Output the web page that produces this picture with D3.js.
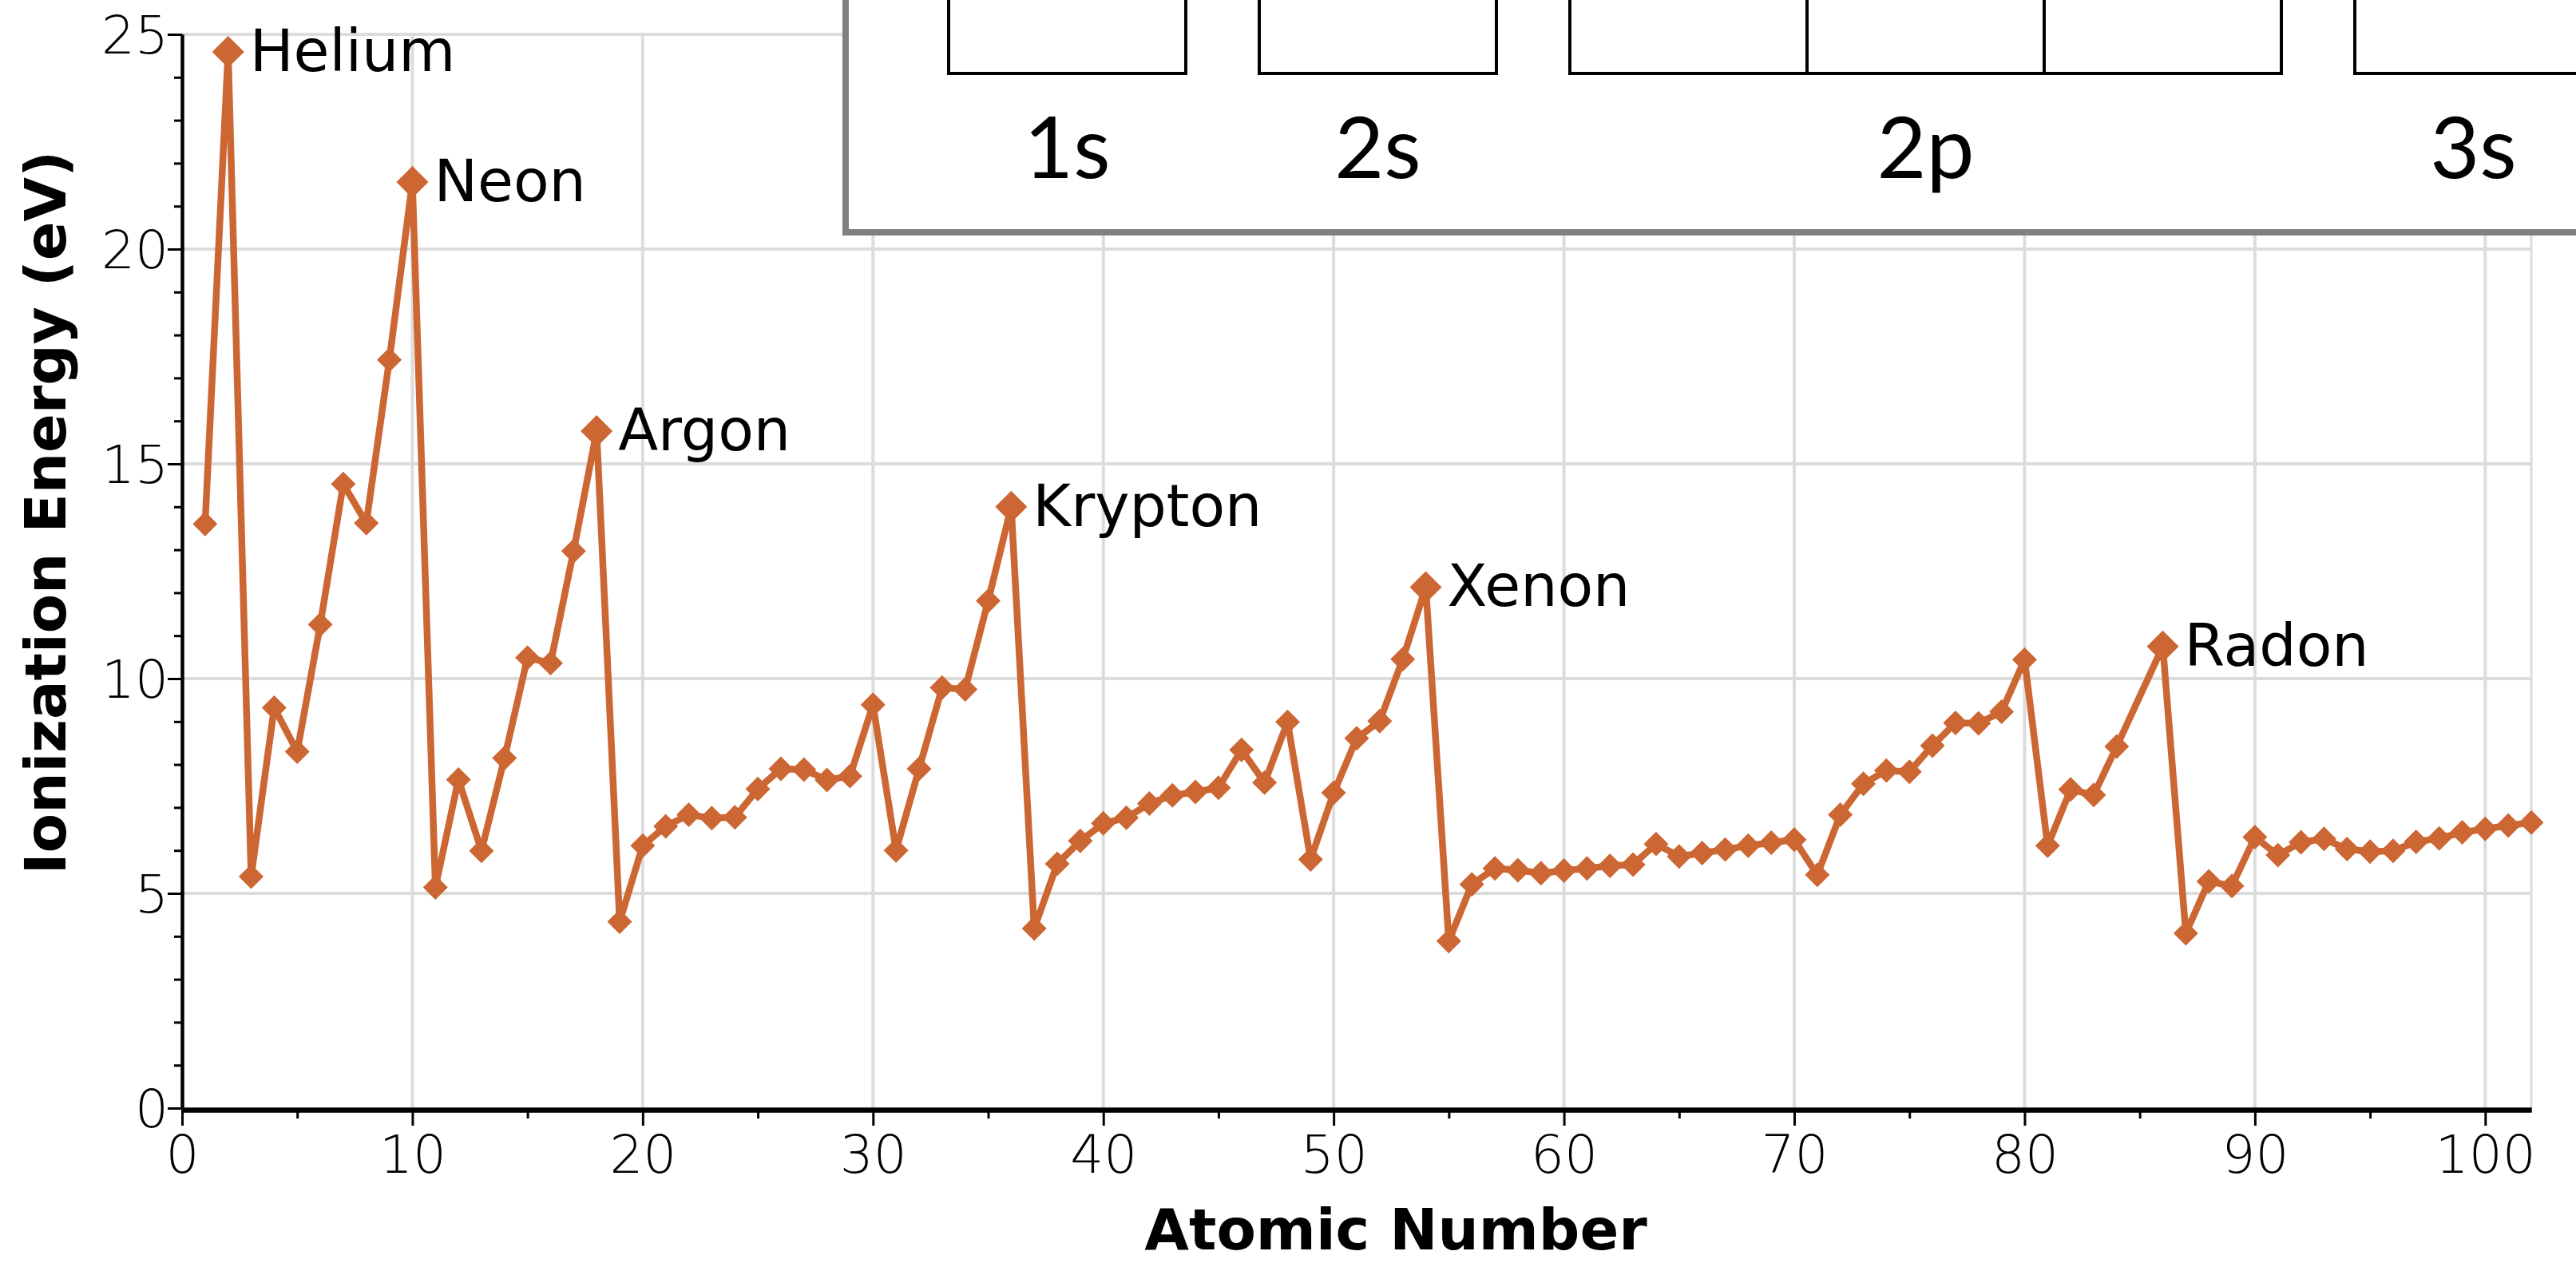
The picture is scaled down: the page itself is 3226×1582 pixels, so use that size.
<!DOCTYPE html>
<html><head><meta charset="utf-8">
<script src="https://cdn.jsdelivr.net/npm/d3@7"></script>
<style>html,body{margin:0;padding:0;background:#fff;overflow:hidden}</style>
</head><body><svg id="c" width="3226" height="1582"></svg>
<script>
// ---- data ----
const atomicNumber = [1,2,3,4,5,6,7,8,9,10,11,12,13,14,15,16,17,18,19,20,
  21,22,23,24,25,26,27,28,29,30,31,32,33,34,35,36,37,38,39,40,
  41,42,43,44,45,46,47,48,49,50,51,52,53,54,55,56,57,58,59,60,
  61,62,63,64,65,66,67,68,69,70,71,72,73,74,75,76,77,78,79,80,
  81,82,83,84,86,87,88,89,90,91,92,93,94,95,96,97,98,99,100,101,102];
const ionizationEnergy = [13.60,24.59,5.39,9.32,8.30,11.26,14.53,13.62,17.42,21.56,
  5.14,7.65,5.99,8.15,10.49,10.36,12.97,15.76,4.34,6.11,
  6.56,6.83,6.75,6.77,7.43,7.90,7.88,7.64,7.73,9.39,
  6.00,7.90,9.79,9.75,11.81,14.00,4.18,5.69,6.22,6.63,
  6.76,7.09,7.28,7.36,7.46,8.34,7.58,8.99,5.79,7.34,
  8.61,9.01,10.45,12.13,3.89,5.21,5.58,5.54,5.47,5.53,
  5.58,5.64,5.67,6.15,5.86,5.94,6.02,6.11,6.18,6.25,
  5.43,6.83,7.55,7.86,7.83,8.44,8.97,8.96,9.23,10.44,
  6.11,7.42,7.29,8.42,10.75,4.07,5.28,5.17,6.31,5.89,
  6.19,6.27,6.03,5.97,5.99,6.20,6.28,6.42,6.50,6.58,6.65];
const labelNames = ["Helium","Neon","Argon","Krypton","Xenon","Radon"];
const labelNumbers = [2,10,18,36,54,86];
const xTickValues = [0,10,20,30,40,50,60,70,80,90,100];
const xMinorTickValues = [5,15,25,35,45,55,65,75,85,95];
const yTickValues = [0,5,10,15,20,25];
const yMinorTickValues = [1,2,3,4,6,7,8,9,11,12,13,14,16,17,18,19,21,22,23,24];
const orbitalNames = ["1s","2s","2p","3s"];
const orbitalBoxCounts = [1,1,3,1];
const xTitle = "Atomic Number";
const yTitle = "Ionization Energy (eV)";

// ---- drawing ----
const svg = d3.select("#c");
const x = d3.scaleLinear().domain([0,102]).range([228,3170]);
const y = d3.scaleLinear().domain([0,25]).range([1388,43]);
const orange = "#cc6633";
const gridColor = "#dcdcdc";
const tickFont = "'DejaVu Sans', sans-serif";

svg.append("rect").attr("width",3226).attr("height",1582).attr("fill","#fff");

// grid
const grid = svg.append("g");
grid.selectAll("line.v").data(xTickValues.filter(d=>d>0)).join("line")
  .attr("x1",d=>x(d)).attr("x2",d=>x(d)).attr("y1",y(0)).attr("y2",y(25))
  .attr("stroke",gridColor).attr("stroke-width",4);
grid.selectAll("line.h").data(yTickValues.filter(d=>d>0)).join("line")
  .attr("x1",x(0)).attr("x2",x(102)).attr("y1",d=>y(d)).attr("y2",d=>y(d))
  .attr("stroke",gridColor).attr("stroke-width",4);
grid.append("line").attr("x1",x(102)).attr("x2",x(102)).attr("y1",y(0)).attr("y2",y(25))
  .attr("stroke",gridColor).attr("stroke-width",3);

// axes
function styleAxis(g, width){
  g.select(".domain").attr("stroke","#000").attr("stroke-width",width);
  g.selectAll(".tick line").attr("stroke","#000").attr("stroke-width",3);
  g.selectAll("text").attr("font-family",tickFont).attr("font-weight",200)
    .attr("font-size",66).attr("fill","#000");
}
const yAxisMinor = svg.append("g").attr("transform",`translate(${x(0)},0)`)
  .call(d3.axisLeft(y).tickValues(yMinorTickValues).tickSize(10).tickSizeOuter(0).tickFormat(""));
styleAxis(yAxisMinor,4);
const yAxis = svg.append("g").attr("transform",`translate(${x(0)},0)`)
  .call(d3.axisLeft(y).tickValues(yTickValues).tickSize(18).tickSizeOuter(0).tickPadding(-1));
styleAxis(yAxis,4);
yAxis.selectAll("text").attr("dy","0.36em");

const xAxisMinor = svg.append("g").attr("transform",`translate(0,${y(0)+2})`)
  .call(d3.axisBottom(x).tickValues(xMinorTickValues).tickSize(11).tickSizeOuter(0).tickFormat(""));
styleAxis(xAxisMinor,6);
const xAxis = svg.append("g").attr("transform",`translate(0,${y(0)+2})`)
  .call(d3.axisBottom(x).tickValues(xTickValues).tickSize(20).tickSizeOuter(0).tickPadding(12));
styleAxis(xAxis,6);

// line
const pts = atomicNumber.map((z,i)=>({z, e: ionizationEnergy[i]}));
svg.append("path").datum(pts)
  .attr("d", d3.line().x(d=>x(d.z)).y(d=>y(d.e)))
  .attr("fill","none").attr("stroke",orange).attr("stroke-width",8.5)
  .attr("stroke-linejoin","round");

// markers
const smallDiamond = d3.symbol().type(d3.symbolSquare).size(480);
const bigDiamond = d3.symbol().type(d3.symbolSquare).size(800);
svg.append("g").selectAll("path").data(pts).join("path")
  .attr("d", d => labelNumbers.includes(d.z) ? bigDiamond() : smallDiamond())
  .attr("transform", d=>`translate(${x(d.z)},${y(d.e)}) rotate(45)`)
  .attr("fill",orange);

// labels
svg.append("g").selectAll("text").data(labelNames).join("text")
  .attr("x",(d,i)=>x(labelNumbers[i])+27)
  .attr("y",(d,i)=>y(ionizationEnergy[atomicNumber.indexOf(labelNumbers[i])])+24)
  .attr("font-family","'DejaVu Sans', sans-serif").attr("font-size",73).attr("fill","#000")
  .text(d=>d);

// titles
svg.append("text").attr("x",1748).attr("y",1565).attr("text-anchor","middle")
  .attr("font-family","'DejaVu Sans', sans-serif").attr("font-weight","bold").attr("font-size",72)
  .attr("fill","#000").text(xTitle);
svg.append("text").attr("transform","translate(82,642) rotate(-90)").attr("text-anchor","middle")
  .attr("font-family","'DejaVu Sans', sans-serif").attr("font-weight","bold").attr("font-size",72)
  .attr("fill","#000").text(yTitle);

// inset (orbital diagram)
const inset = svg.append("g");
inset.append("rect").attr("x",1059).attr("y",-60).attr("width",2400).attr("height",351)
  .attr("fill","#fff").attr("stroke","#808080").attr("stroke-width",8);
const boxW = 297, boxGap = 92;
let cursor = 1188;
orbitalNames.forEach((name,i)=>{
  const n = orbitalBoxCounts[i];
  for(let k=0;k<n;k++){
    inset.append("rect").attr("x",cursor+k*boxW).attr("y",-220).attr("width",boxW).attr("height",312)
      .attr("fill","none").attr("stroke","#000").attr("stroke-width",4);
  }
  inset.append("text").attr("x",cursor+n*boxW/2).attr("y",223).attr("text-anchor","middle")
    .attr("font-family","'Gill Sans','Gill Sans MT',Lato,sans-serif").attr("font-size",107)
    .attr("fill","#000").text(name);
  cursor += n*boxW + boxGap;
});
</script>
</body></html>
